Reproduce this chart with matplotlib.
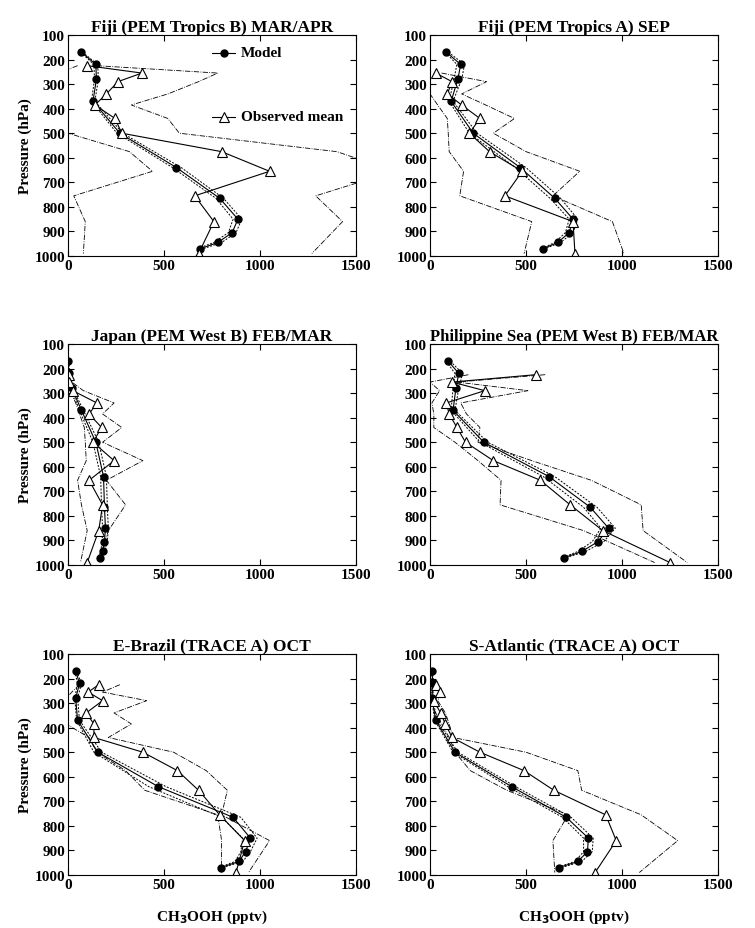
import matplotlib
matplotlib.use('Agg')
import matplotlib.pyplot as plt

plt.rcParams['font.family'] = ['Liberation Serif', 'DejaVu Serif']
plt.rcParams['font.weight'] = 'bold'

titles = ['Fiji (PEM Tropics B) MAR/APR', 'Fiji (PEM Tropics A) SEP',
          'Japan (PEM West B) FEB/MAR', 'Philippine Sea (PEM West B) FEB/MAR',
          'E-Brazil (TRACE A) OCT', 'S-Atlantic (TRACE A) OCT']

p_model = [170, 220, 280, 370, 500, 640, 765, 850, 905, 945, 970]
p_obs = [225, 255, 290, 340, 385, 440, 500, 575, 655, 755, 860, 990]

# model mean, and its two dashed neighbours
model = [
    [70, 145, 148, 130, 270, 565, 790, 885, 855, 780, 690],
    [85, 160, 145, 110, 225, 470, 650, 745, 725, 665, 590],
    [0, 5, 20, 70, 145, 185, 190, 195, 190, 180, 165],
    [95, 150, 135, 120, 280, 620, 835, 930, 875, 790, 700],
    [40, 60, 40, 50, 155, 470, 860, 950, 925, 890, 795],
    [10, 15, 10, 30, 130, 425, 710, 825, 820, 770, 670],
]
model_lo = [
    [65, 135, 138, 122, 255, 545, 770, 860, 835, 760, 675],
    [80, 140, 125, 100, 205, 445, 625, 725, 705, 650, 580],
    [0, 3, 15, 60, 130, 170, 175, 180, 178, 170, 158],
    [85, 130, 120, 110, 260, 590, 800, 890, 845, 770, 690],
    [35, 50, 35, 45, 135, 420, 800, 910, 900, 870, 785],
    [8, 12, 8, 25, 120, 405, 690, 800, 800, 755, 660],
]
model_hi = [
    [75, 155, 158, 140, 285, 590, 810, 905, 875, 800, 705],
    [95, 180, 165, 120, 245, 500, 680, 770, 745, 680, 600],
    [5, 8, 25, 80, 160, 200, 205, 210, 205, 192, 175],
    [105, 170, 150, 130, 300, 650, 870, 965, 905, 810, 710],
    [45, 70, 50, 60, 175, 510, 900, 985, 950, 910, 805],
    [12, 20, 14, 36, 145, 445, 735, 850, 845, 790, 685],
]

obs = [
    [100, 385, 260, 200, 140, 245, 280, 800, 1050, 660, 760, 680],
    [None, 30, 115, 90, 165, 260, 205, 310, 480, 390, 745, 755],
    [5, 5, 25, 150, 110, 175, 130, 240, 110, 180, 160, 100],
    [550, 115, 285, 85, 100, 140, 185, 330, 575, 730, 900, 1250],
    [160, 105, 180, 95, 135, 135, 390, 570, 680, 790, 920, 875],
    [30, 50, 20, 55, 80, 115, 260, 490, 645, 915, 970, 860],
]
obs_lo = [
    [50, -50, -100, -100, -100, -50, 0, 320, 440, 30, 90, 80],
    [None, -30, -60, 0, 40, 90, 95, 100, 175, 155, 530, 490],
    [0, 0, 10, 40, 60, 85, 90, 95, 50, 70, 100, 65],
    [200, 0, 50, 10, 20, 20, 130, 250, 370, 365, 800, 1170],
    [60, 20, -20, -20, -10, 110, 150, 300, 400, 780, 800, 800],
    [10, 0, 0, 30, 60, 100, 130, 210, 400, 720, 640, 650],
]
obs_hi = [
    [150, 780, 680, 520, 330, 520, 580, 1400, 1700, 1290, 1430, 1270],
    [None, 60, 295, 165, 290, 440, 330, 500, 780, 640, 950, 1010],
    [20, 20, 80, 240, 180, 280, 180, 390, 200, 300, 210, 160],
    [600, 140, 510, 160, 190, 260, 250, 530, 840, 1100, 1110, 1340],
    [270, 180, 410, 240, 330, 210, 550, 720, 830, 800, 1050, 940],
    [40, 60, 40, 80, 100, 120, 500, 770, 790, 1100, 1290, 1090],
]


def pairs(xs, ps):
    return [x for x in xs if x is not None], [p for x, p in zip(xs, ps) if x is not None]


fig = plt.figure(figsize=(7.55, 9.29), dpi=100)
lefts = [68 / 755, 430 / 755]
tops = [36, 345, 655]
w, h = 288 / 755, 221 / 929

for i in range(6):
    r, c = divmod(i, 2)
    ax = fig.add_axes([lefts[c], 1 - (tops[r] + 221) / 929, w, h])
    x, p = pairs(obs_lo[i], p_obs)
    ax.plot(x, p, color='k', ls='-.', lw=0.6)
    x, p = pairs(obs_hi[i], p_obs)
    ax.plot(x, p, color='k', ls='-.', lw=0.6)
    ax.plot(model_lo[i], p_model, color='k', ls='--', lw=0.7, dashes=(2, 1.5))
    ax.plot(model_hi[i], p_model, color='k', ls='--', lw=0.7, dashes=(2, 1.5))
    ax.plot(model[i], p_model, color='k', lw=0.8, marker='o', ms=5)
    x, p = pairs(obs[i], p_obs)
    ax.plot(x, p, color='k', lw=0.8, marker='^', ms=7, mfc='white', mew=0.8)
    ax.set_xlim(0, 1500)
    ax.set_ylim(1000, 100)
    ax.set_xticks([0, 500, 1000, 1500])
    ax.set_yticks(range(100, 1001, 100))
    ax.tick_params(direction='in', top=True, right=True, labelsize=11, length=4, pad=2)
    for lab in ax.get_xticklabels() + ax.get_yticklabels():
        lab.set_fontweight('bold')
    ax.set_title(titles[i], fontsize=12.5 if i != 3 else 12, fontweight='bold', pad=3)
    if c == 0:
        ax.set_ylabel('Pressure (hPa)', fontsize=11, fontweight='bold', labelpad=2)
    if r == 2:
        ax.set_xlabel('CH$_3$OOH (pptv)', fontsize=11, fontweight='bold', labelpad=12)
    if i == 0:
        ax.plot([0.5, 0.58], [0.92, 0.92], transform=ax.transAxes, color='k', lw=0.8)
        ax.plot([0.54], [0.92], transform=ax.transAxes, color='k', marker='o', ms=5)
        ax.text(0.6, 0.92, 'Model', transform=ax.transAxes, va='center', fontsize=11, fontweight='bold')
        ax.plot([0.5, 0.58], [0.63, 0.63], transform=ax.transAxes, color='k', lw=0.8)
        ax.plot([0.54], [0.63], transform=ax.transAxes, color='k', marker='^', ms=7, mfc='white', mew=0.8)
        ax.text(0.6, 0.63, 'Observed mean', transform=ax.transAxes, va='center', fontsize=11, fontweight='bold')

fig.savefig('out.png', dpi=100)
